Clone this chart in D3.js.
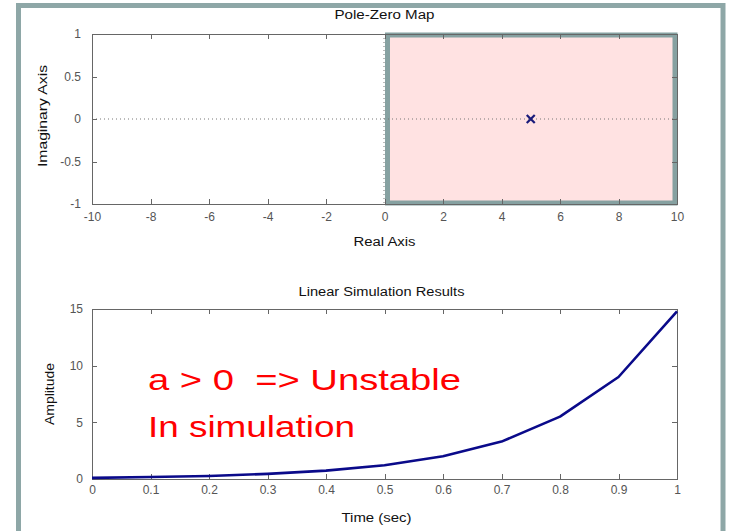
<!DOCTYPE html>
<meta charset="utf-8">
<script src="https://d3js.org/d3.v7.min.js"></script>
<style>
  body { margin: 0; background: #fff; font-family: "Liberation Sans", Arial, sans-serif; }
  .axis text { font-size: 12px; fill: #555; font-family: "Liberation Sans", Arial, sans-serif; }
  .axis path, .axis line { stroke: #666; shape-rendering: crispEdges; }
  .lbl { font-size: 12px; fill: #111; }
</style>
<div id="chart"></div>
<script>
  // Pole-zero map data
  var realTicks = [-10, -8, -6, -4, -2, 0, 2, 4, 6, 8, 10];
  var imagTicks = [-1, -0.5, 0, 0.5, 1];
  var poles = [{ re: 5, im: 0 }];

  // Linear simulation data
  var timeVals = [0, 0.1, 0.2, 0.3, 0.4, 0.5, 0.6, 0.7, 0.8, 0.9, 1.0];
  var amplitude = [0.1, 0.17, 0.27, 0.45, 0.74, 1.22, 2.0, 3.3, 5.5, 9.0, 14.8];
  var timeTicks = [0, 0.1, 0.2, 0.3, 0.4, 0.5, 0.6, 0.7, 0.8, 0.9, 1];
  var ampTicks = [0, 5, 10, 15];

  var annotation = ["a > 0  => Unstable", "In simulation"];

  var W = 730, H = 531;
  var fmt = function (d) { return String(d); };

  var svg = d3.select("#chart").append("svg")
    .attr("width", W)
    .attr("height", H);

  // outer slide frame
  svg.append("rect")
    .attr("x", 18.5).attr("y", 5.5)
    .attr("width", 704.5).attr("height", 600)
    .attr("fill", "#fff")
    .attr("stroke", "#8ea7a7")
    .attr("stroke-width", 5);

  // ---------- top plot: pole-zero map ----------
  var x1 = d3.scaleLinear().domain([-10, 10]).range([92, 677]);
  var y1 = d3.scaleLinear().domain([-1, 1]).range([204, 34]);

  // right half plane highlight
  svg.append("rect")
    .attr("x", x1(0) + 3)
    .attr("y", y1(1) + 1)
    .attr("width", x1(10) - 2 - (x1(0) + 3))
    .attr("height", y1(-1) - 1 - (y1(1) + 1))
    .attr("fill", "#ffe2e2")
    .attr("stroke", "#86a1a1")
    .attr("stroke-width", 5);

  // dotted zero lines
  svg.append("line")
    .attr("x1", x1(-10)).attr("x2", x1(10))
    .attr("y1", y1(0)).attr("y2", y1(0))
    .attr("stroke", "#777").attr("stroke-dasharray", "1,3");
  svg.append("line")
    .attr("x1", x1(0) - 0.5).attr("x2", x1(0) - 0.5)
    .attr("y1", y1(1)).attr("y2", y1(-1))
    .attr("stroke", "#777").attr("stroke-dasharray", "1,3");

  svg.append("g").attr("class", "axis")
    .attr("transform", "translate(0," + y1(-1) + ")")
    .call(d3.axisBottom(x1).tickValues(realTicks).tickSize(-5).tickSizeOuter(0).tickPadding(8).tickFormat(fmt));
  svg.append("g").attr("class", "axis")
    .attr("transform", "translate(0," + y1(1) + ")")
    .call(d3.axisTop(x1).tickValues(realTicks).tickSize(-5).tickSizeOuter(0).tickFormat(""));
  svg.append("g").attr("class", "axis")
    .attr("transform", "translate(" + x1(-10) + ",0)")
    .call(d3.axisLeft(y1).tickValues(imagTicks).tickSize(-5).tickSizeOuter(0).tickPadding(11).tickFormat(fmt));
  svg.append("g").attr("class", "axis")
    .attr("transform", "translate(" + x1(10) + ",0)")
    .call(d3.axisRight(y1).tickValues(imagTicks).tickSize(-5).tickSizeOuter(0).tickFormat(""));

  // poles
  var s = 4;
  poles.forEach(function (p) {
    var cx = x1(p.re), cy = y1(p.im);
    svg.append("path")
      .attr("d", "M" + (cx - s) + "," + (cy - s) + "L" + (cx + s) + "," + (cy + s) +
        "M" + (cx - s) + "," + (cy + s) + "L" + (cx + s) + "," + (cy - s))
      .attr("stroke", "#1a1a7a").attr("stroke-width", 2.2);
  });

  svg.append("text").attr("class", "lbl")
    .attr("x", (x1(-10) + x1(10)) / 2).attr("y", 19)
    .attr("text-anchor", "middle")
    .attr("textLength", 100).attr("lengthAdjust", "spacingAndGlyphs")
    .text("Pole-Zero Map");
  svg.append("text").attr("class", "lbl")
    .attr("x", (x1(-10) + x1(10)) / 2).attr("y", 246)
    .attr("text-anchor", "middle")
    .attr("textLength", 62).attr("lengthAdjust", "spacingAndGlyphs")
    .text("Real Axis");
  svg.append("text").attr("class", "lbl")
    .attr("transform", "translate(47," + (y1(0) - 3) + ")rotate(-90)")
    .attr("text-anchor", "middle")
    .attr("textLength", 102).attr("lengthAdjust", "spacingAndGlyphs")
    .text("Imaginary Axis");

  // ---------- bottom plot: linear simulation ----------
  var x2 = d3.scaleLinear().domain([0, 1]).range([92, 677]);
  var y2 = d3.scaleLinear().domain([0, 15]).range([479, 309]);

  svg.append("g").attr("class", "axis")
    .attr("transform", "translate(0," + y2(0) + ")")
    .call(d3.axisBottom(x2).tickValues(timeTicks).tickSize(-5).tickSizeOuter(0).tickPadding(6).tickFormat(fmt));
  svg.append("g").attr("class", "axis")
    .attr("transform", "translate(0," + y2(15) + ")")
    .call(d3.axisTop(x2).tickValues(timeTicks).tickSize(-5).tickSizeOuter(0).tickFormat(""));
  svg.append("g").attr("class", "axis")
    .attr("transform", "translate(" + x2(0) + ",0)")
    .call(d3.axisLeft(y2).tickValues(ampTicks).tickSize(-5).tickSizeOuter(0).tickPadding(9).tickFormat(fmt));
  svg.append("g").attr("class", "axis")
    .attr("transform", "translate(" + x2(1) + ",0)")
    .call(d3.axisRight(y2).tickValues(ampTicks).tickSize(-5).tickSizeOuter(0).tickFormat(""));

  var line = d3.line()
    .x(function (d, i) { return x2(timeVals[i]); })
    .y(function (d) { return y2(d); });

  svg.append("path")
    .datum(amplitude)
    .attr("fill", "none")
    .attr("stroke", "#0a0a8a")
    .attr("stroke-width", 2.6)
    .attr("stroke-linejoin", "round")
    .attr("d", line);

  svg.append("text").attr("class", "lbl")
    .attr("x", (x2(0) + x2(1)) / 2 - 3).attr("y", 296)
    .attr("text-anchor", "middle")
    .attr("textLength", 166).attr("lengthAdjust", "spacingAndGlyphs")
    .text("Linear Simulation Results");
  svg.append("text").attr("class", "lbl")
    .attr("x", (x2(0) + x2(1)) / 2 - 8).attr("y", 522)
    .attr("text-anchor", "middle")
    .attr("textLength", 70).attr("lengthAdjust", "spacingAndGlyphs")
    .text("Time (sec)");
  svg.append("text").attr("class", "lbl")
    .attr("transform", "translate(54," + y2(7.5) + ")rotate(-90)")
    .attr("text-anchor", "middle")
    .attr("textLength", 62).attr("lengthAdjust", "spacingAndGlyphs")
    .text("Amplitude");

  // red annotation
  var annLen = [313, 207];
  svg.selectAll(".ann")
    .data(annotation)
    .enter().append("text")
    .attr("class", "ann")
    .attr("x", 148)
    .attr("y", function (d, i) { return 390 + i * 47; })
    .attr("fill", "#ff0000")
    .style("font-size", "30px")
    .style("white-space", "pre")
    .attr("textLength", function (d, i) { return annLen[i]; })
    .attr("lengthAdjust", "spacingAndGlyphs")
    .text(function (d) { return d; });
</script>
